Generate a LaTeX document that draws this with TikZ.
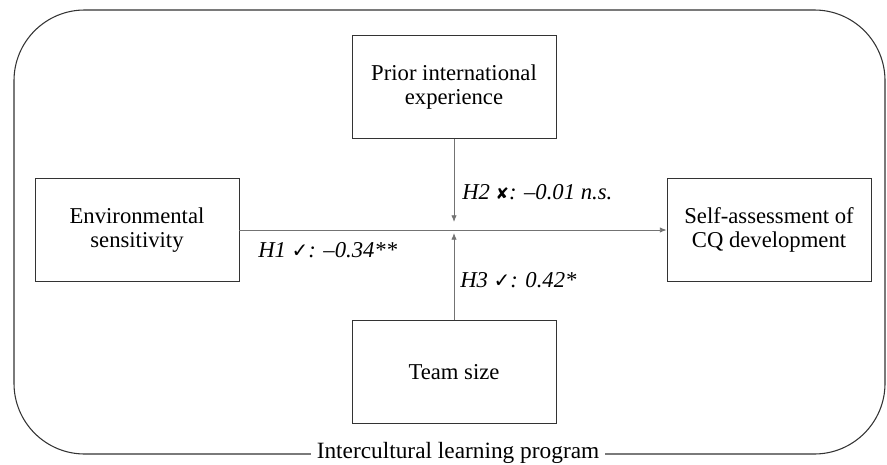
\documentclass[tikz,border=0pt]{standalone}
\usepackage{fontspec}
\setmainfont{Liberation Serif}
\newfontfamily\symfont{DejaVu Sans}
\usetikzlibrary{arrows.meta}
\newcommand{\yes}{{\symfont\fontsize{15}{15}\selectfont ✓}}
\newcommand{\no}{{\symfont\fontsize{12}{12}\selectfont ✘}}
\begin{document}
\begin{tikzpicture}[x=0.75pt,y=-0.75pt,
  box/.style={draw=black!80,line width=0.7pt,minimum width=153pt,minimum height=77pt,
    align=center,inner sep=0pt,font=\fontsize{17}{18.5}\selectfont},
  hyp/.style={anchor=west,inner sep=0pt,font=\fontsize{17}{19}\selectfont\itshape},
  link/.style={draw=black!55,line width=0.6pt,-{Latex[length=5pt,width=4pt]}}]
  \useasboundingbox (0,0) rectangle (887,464);
  \draw[black!80,line width=0.8pt,rounded corners=53pt] (14,10) rectangle (885,454);
  \node[fill=white,inner xsep=4pt,inner ysep=1pt,font=\fontsize{17.5}{19}\selectfont] (prog) at (458,453) {Intercultural learning program};
  \node[box] (env) at (137,230) {Environmental\\sensitivity};
  \node[box] (cq) at (769,230) {Self-assessment of\\CQ development};
  \node[box] (prior) at (454,87) {Prior international\\experience};
  \node[box] (team) at (454,372) {Team size};
  \coordinate (h2end) at (454,222);
  \coordinate (h3end) at (454,233);
  \draw[link] (env.east) -- (cq.west);
  \draw[link] (prior.south) -- (h2end);
  \draw[link] (team.north) -- (h3end);
  \node[hyp] (h1) at (258,250) {H1 \yes: –0.34**};
  \node[hyp] (h2) at (462,192) {H2 \no: –0.01 n.s.};
  \node[hyp] (h3) at (460,280) {H3 \yes: 0.42*};
\end{tikzpicture}
\end{document}
